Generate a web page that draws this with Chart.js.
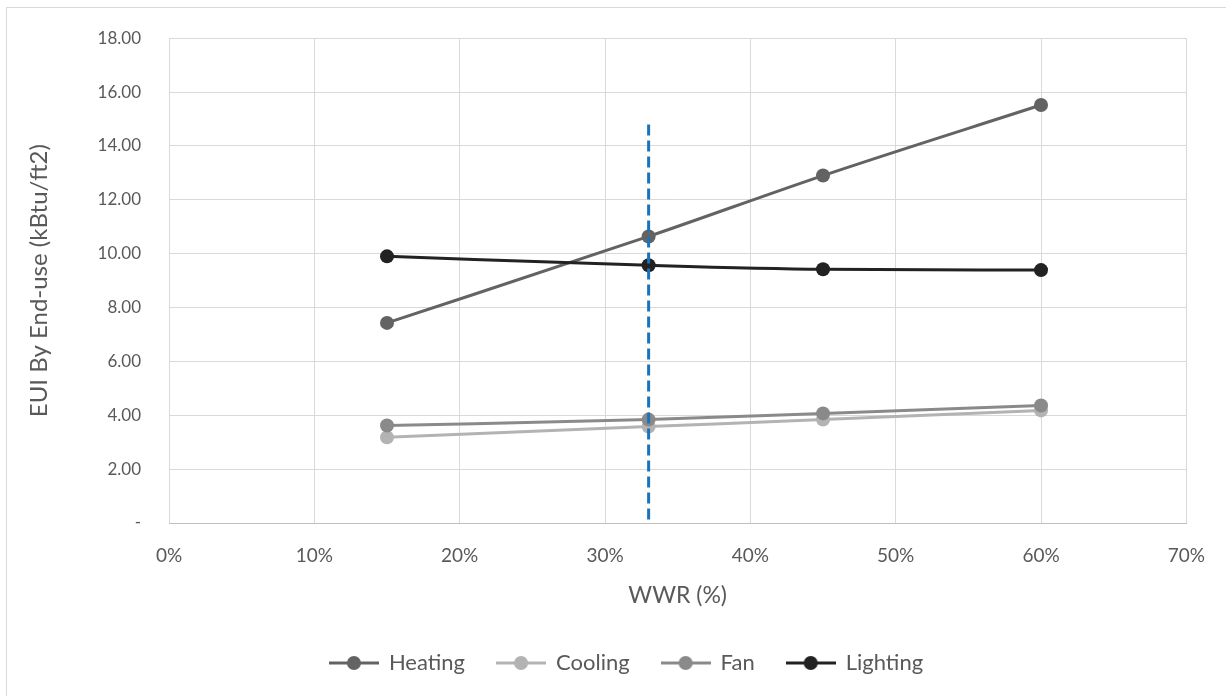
<!DOCTYPE html>
<html>
<head>
<meta charset="utf-8">
<script src="https://cdn.jsdelivr.net/npm/chart.js@4.4.0/dist/chart.umd.min.js"></script>
<style>
  html, body { margin: 0; padding: 0; background: #fff; overflow: hidden; }
  #wrap { position: relative; width: 1226px; height: 696px; overflow: hidden; }
  #frame { position: absolute; left: 6px; top: 7px; width: 1300px; height: 800px;
           border-left: 1px solid #d9d9d9; border-top: 1px solid #d9d9d9; }
  canvas { position: absolute; left: 0; top: 0; }
</style>
</head>
<body>
<div id="wrap">
  <div id="frame"></div>
  <canvas id="chart" width="1226" height="696"></canvas>
</div>
<script>
// WWR (%) on the x axis
const wwr = [15, 33, 45, 60];

// EUI by end-use (kBtu/ft2)
const heating  = [7.43, 10.64, 12.90, 15.52];
const cooling  = [3.18, 3.58, 3.84, 4.18];
const fan      = [3.62, 3.84, 4.07, 4.36];
const lighting = [9.90, 9.57, 9.42, 9.39];

// selected WWR marker line (drawn top-down so the dash starts at the top)
const markerX = [33, 33];
const markerY = [14.8, 0];

const seriesNames = ['Heating', 'Cooling', 'Fan', 'Lighting'];
const seriesColors = ['#636363', '#b3b3b3', '#8a8a8a', '#222222'];

function toPoints(xs, ys) {
  return xs.map((x, i) => ({ x: x, y: ys[i] }));
}

// legend icon: short line with a dot in the middle
function legendIcon(color) {
  const c = document.createElement('canvas');
  c.width = 50; c.height = 16;
  const ctx = c.getContext('2d');
  ctx.strokeStyle = color;
  ctx.lineWidth = 3;
  ctx.beginPath();
  ctx.moveTo(0, 8); ctx.lineTo(50, 8);
  ctx.stroke();
  ctx.fillStyle = color;
  ctx.beginPath();
  ctx.arc(25, 8, 7, 0, Math.PI * 2);
  ctx.fill();
  return c;
}

const seriesData = [heating, cooling, fan, lighting];
const datasets = seriesNames.map((name, i) => ({
  label: name,
  data: toPoints(wwr, seriesData[i]),
  borderColor: seriesColors[i],
  backgroundColor: seriesColors[i],
  borderWidth: 3,
  pointRadius: 7,
  pointHoverRadius: 7,
  pointBorderWidth: 0,
  legendStyle: legendIcon(seriesColors[i]),
  cubicInterpolationMode: 'monotone',
  order: 4 - i
}));

datasets.push({
  label: 'marker',
  data: toPoints(markerX, markerY),
  borderColor: '#1a72b9',
  borderWidth: 3,
  borderDash: [11, 5],
  pointRadius: 0,
  order: 0
});

// the legend in the original is centred on the whole frame, not the canvas minus padding
const legendShift = {
  id: 'legendShift',
  afterLayout(chart) {
    chart.legend.left += 32;
    chart.legend.right += 32;
  }
};

Chart.defaults.font.family = 'Lato, "Open Sans", sans-serif';
Chart.defaults.color = '#595959';

new Chart(document.getElementById('chart'), {
  type: 'line',
  data: { datasets: datasets },
  plugins: [legendShift],
  options: {
    responsive: false,
    animation: false,
    layout: { padding: { top: 36, right: 37, left: 0, bottom: 12 } },
    plugins: {
      tooltip: { enabled: false },
      legend: {
        position: 'bottom',
        labels: {
          usePointStyle: true,
          pointStyleWidth: 48,
          padding: 32,
          font: { size: 22 },
          color: '#595959',
          generateLabels: chart => chart.data.datasets
            .map((ds, i) => ({
              text: ds.label,
              datasetIndex: i,
              pointStyle: ds.legendStyle,
              fillStyle: ds.borderColor,
              strokeStyle: ds.borderColor,
              lineWidth: 0,
              fontColor: '#595959',
              hidden: false
            }))
            .filter(item => item.text !== 'marker')
        }
      }
    },
    scales: {
      x: {
        type: 'linear',
        min: 0,
        max: 70,
        ticks: {
          stepSize: 10,
          padding: 21,
          font: { size: 19 },
          callback: v => v + '%'
        },
        grid: { color: '#d9d9d9', drawTicks: false },
        border: { color: '#bfbfbf', width: 1 },
        title: {
          display: true,
          text: 'WWR (%)',
          font: { size: 23 },
          padding: { top: 0, bottom: 11 }
        },
        afterFit: scale => { scale.height = 97; }
      },
      y: {
        min: 0,
        max: 18,
        ticks: {
          stepSize: 2,
          padding: 28,
          font: { size: 17 },
          callback: v => v === 0 ? '-' : v.toFixed(2)
        },
        grid: { color: '#d9d9d9', drawTicks: false },
        border: { display: false },
        title: {
          display: true,
          text: 'EUI By End-use (kBtu/ft2)',
          font: { size: 24 },
          padding: { top: 25, bottom: 0 }
        },
        afterFit: scale => { scale.width = 169; }
      }
    }
  }
});
</script>
</body>
</html>
